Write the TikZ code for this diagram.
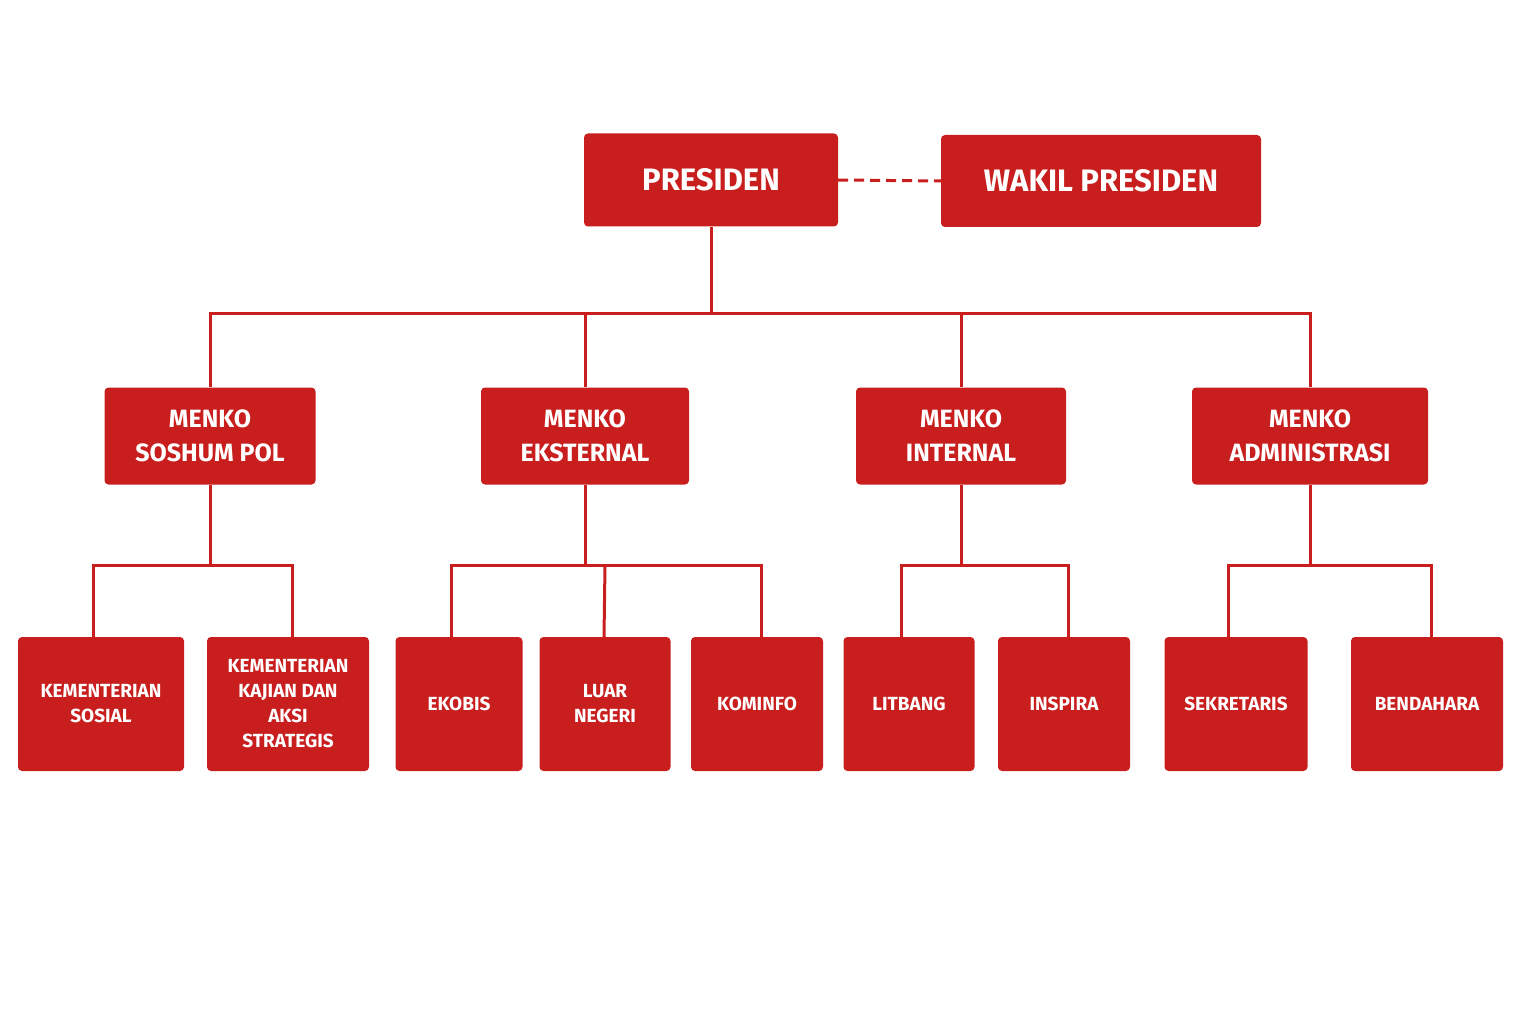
\documentclass[tikz,border=0pt]{standalone}
\usepackage{fontspec}
\setmainfont{Fira Sans}
\definecolor{red1}{HTML}{C81E1E}
\begin{document}
\begin{tikzpicture}[x=1pt,y=-1pt,
 box/.style={fill=red1,rounded corners=4pt,text=white,font=\bfseries,align=center,inner sep=0pt},
 top/.style={box,font=\fontsize{31}{36}\selectfont\bfseries},
 mid/.style={box,font=\fontsize{25}{34}\selectfont\bfseries,minimum height=97pt},
 low/.style={box,font=\fontsize{19}{25}\selectfont\bfseries,minimum height=134pt},
 ln/.style={draw=red1,line width=3pt}]
\useasboundingbox (0,0) rectangle (1536,1024);
\node[top,minimum width=254pt,minimum height=93pt] (pres) at (711,180) {PRESIDEN};
\node[top,minimum width=320pt,minimum height=92pt] (wapres) at (1101,181) {WAKIL PRESIDEN};
\node[mid,minimum width=211pt] (m1) at (210,436) {MENKO\\SOSHUM POL};
\node[mid,minimum width=208pt] (m2) at (585,436) {MENKO\\EKSTERNAL};
\node[mid,minimum width=210pt] (m3) at (961,436) {MENKO\\INTERNAL};
\node[mid,minimum width=236pt] (m4) at (1310,436) {MENKO\\ADMINISTRASI};
\node[low,minimum width=166pt] (b1) at (101,704) {KEMENTERIAN\\SOSIAL};
\node[low,minimum width=162pt] (b2) at (288,704) {KEMENTERIAN\\KAJIAN DAN\\AKSI\\STRATEGIS};
\node[low,minimum width=127pt] (b3) at (459,704) {EKOBIS};
\node[low,minimum width=131pt] (b4) at (605,704) {LUAR\\NEGERI};
\node[low,minimum width=132pt] (b5) at (757,704) {KOMINFO};
\node[low,minimum width=131pt] (b6) at (909,704) {LITBANG};
\node[low,minimum width=132pt] (b7) at (1064,704) {INSPIRA};
\node[low,minimum width=143pt] (b8) at (1236,704) {SEKRETARIS};
\node[low,minimum width=152pt] (b9) at (1427,704) {BENDAHARA};
\draw[ln,dashed,dash pattern=on 10pt off 6pt] (pres.east) -- (wapres.west);
\coordinate (h1) at (0,313);
\draw[ln] (pres.south) -- (pres.south |- h1);
\foreach \m in {m1,m2,m3,m4}{\draw[ln] (pres.south |- h1) -| (\m.north);}
\coordinate (h2) at (0,565);
\foreach \m/\a/\b in {m1/b1/b2,m2/b3/b5,m3/b6/b7,m4/b8/b9}{
 \draw[ln] (\m.south) -- (\m.south |- h2);
 \draw[ln] (\m.south |- h2) -| ([xshift=-8pt]\a.north);
 \draw[ln] (\m.south |- h2) -| ([xshift=4pt]\b.north);}
\draw[ln] (b4.north |- h2) -- ([xshift=-1pt]b4.north);
\end{tikzpicture}
\end{document}
